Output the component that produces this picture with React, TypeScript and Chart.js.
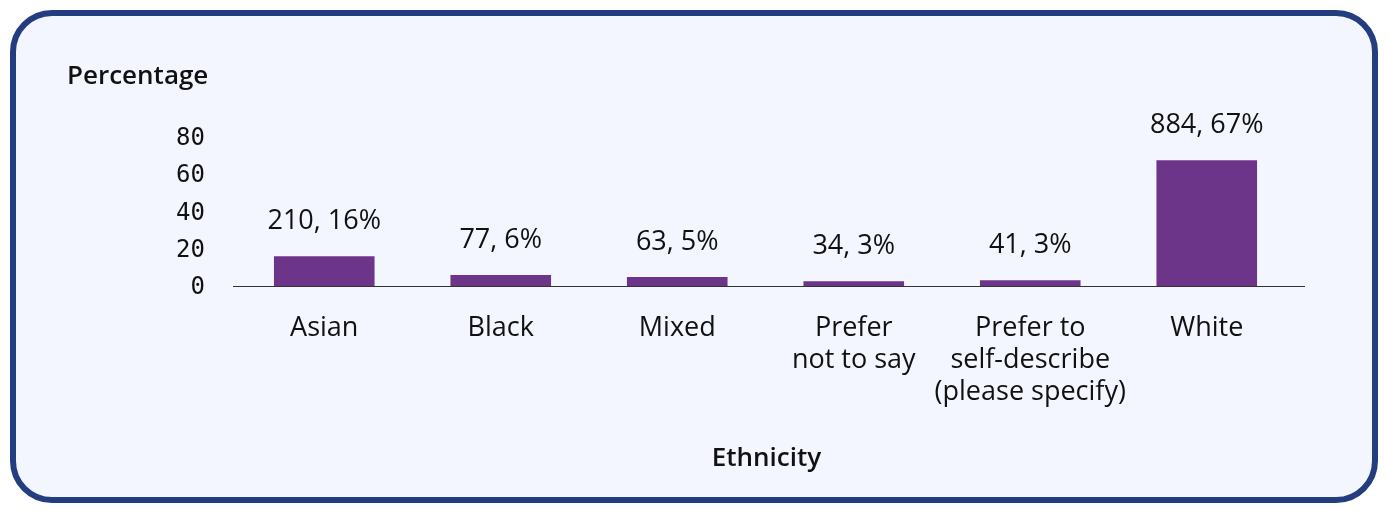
import React, { useEffect, useRef } from "react";
import { Chart, registerables } from "chart.js";

Chart.register(...registerables);

const categories: string[][] = [
  ["Asian"],
  ["Black"],
  ["Mixed"],
  ["Prefer", "not to say"],
  ["Prefer to", "self-describe", "(please specify)"],
  ["White"],
];
const counts: number[] = [210, 77, 63, 34, 41, 884];
const percentages: number[] = [16.0, 5.9, 4.8, 2.6, 3.1, 67.5];
const pctLabels: string[] = ["16%", "6%", "5%", "3%", "3%", "67%"];
const yTicks: number[] = [0, 20, 40, 60, 80];

const BAR = "#6d3589";
const TEXT = "#111111";
const LABEL_FONT = "'Open Sans', 'Noto Sans', sans-serif";
const NUM_FONT = "'DejaVu Sans Mono', monospace";

const overlay = {
  id: "overlay",
  afterDatasetsDraw(chart: any) {
    const { ctx, chartArea, scales } = chart;
    const meta = chart.getDatasetMeta(0);
    ctx.save();
    // x axis line
    ctx.strokeStyle = "#333333";
    ctx.lineWidth = 1.2;
    ctx.beginPath();
    ctx.moveTo(chartArea.left - 3, scales.y.getPixelForValue(0) + 0.5);
    ctx.lineTo(chartArea.right + 10, scales.y.getPixelForValue(0) + 0.5);
    ctx.stroke();
    // data labels
    ctx.fillStyle = TEXT;
    ctx.font = `27px ${LABEL_FONT}`;
    ctx.textAlign = "center";
    ctx.textBaseline = "middle";
    meta.data.forEach((bar: any, i: number) => {
      ctx.fillText(`${counts[i]}, ${pctLabels[i]}`, bar.x, bar.y - 35);
    });
    // axis titles
    ctx.font = `600 26px ${LABEL_FONT}`;
    ctx.textAlign = "left";
    ctx.fillText("Percentage", 59, 69);
    ctx.textAlign = "center";
    ctx.fillText("Ethnicity", (chartArea.left + chartArea.right) / 2 + 1, 451);
    ctx.restore();
  },
};

export default function App() {
  const ref = useRef<HTMLCanvasElement | null>(null);
  useEffect(() => {
    if (!ref.current) return;
    const chart = new Chart(ref.current, {
      type: "bar",
      data: {
        labels: categories,
        datasets: [
          {
            data: percentages,
            backgroundColor: BAR,
            barPercentage: 0.57,
            categoryPercentage: 1,
          },
        ],
      },
      options: {
        animation: false,
        responsive: false,
        maintainAspectRatio: false,
        layout: { padding: { top: 129, right: 86, left: 0, bottom: 0 } },
        plugins: { legend: { display: false }, tooltip: { enabled: false } },
        scales: {
          x: {
            grid: { display: false, drawTicks: false },
            border: { display: false },
            ticks: {
              color: TEXT,
              font: { family: LABEL_FONT, size: 27, lineHeight: 1.17 },
              padding: 27,
              maxRotation: 0,
              autoSkip: false,
            },
            afterFit(scale: any) {
              scale.height = 217;
            },
          },
          y: {
            min: 0,
            max: 80,
            afterBuildTicks(scale: any) {
              scale.ticks = yTicks.map((v) => ({ value: v }));
            },
            grid: { display: false, drawTicks: false },
            border: { display: false },
            ticks: {
              color: TEXT,
              font: { family: NUM_FONT, size: 24 },
              padding: 31,
              labelOffset: 2,
            },
            afterFit(scale: any) {
              scale.width = 228;
            },
          },
        },
      },
      plugins: [overlay],
    });
    return () => chart.destroy();
  }, []);

  return (
    <div style={{ position: "relative", width: 1373, height: 495 }}>
      <div
        style={{
          position: "absolute",
          left: 2,
          top: 2,
          width: 1368,
          height: 493,
          boxSizing: "border-box",
          border: "6px solid #233d7f",
          borderRadius: 42,
          background: "#f3f6fe",
        }}
      />
      <canvas
        ref={ref}
        width={1373}
        height={495}
        style={{ position: "absolute", left: 0, top: 0, width: 1373, height: 495 }}
      />
    </div>
  );
}
